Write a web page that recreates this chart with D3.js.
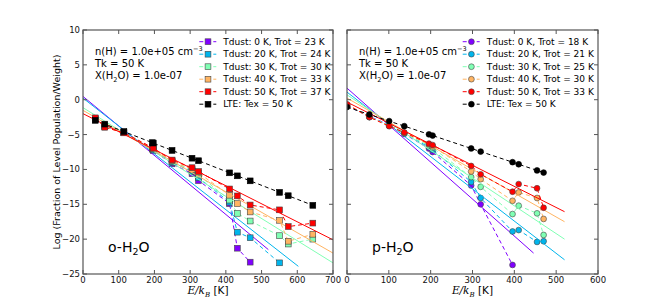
<!DOCTYPE html>
<html>
<head>
<meta charset="utf-8">
<script src="https://cdn.jsdelivr.net/npm/d3@7"></script>
<style>
  body { margin: 0; background: #fff; }
  text { font-family: "DejaVu Sans", sans-serif; }
</style>
</head>
<body>
<div id="chart"></div>
<script>
// level energies E/k [K]
var eOrtho = [34.2, 61.0, 114.4, 194.1, 196.8, 249.4, 305.3, 323.5, 410.4, 432.2, 468.1, 550.4, 574.7, 643.5];
var ePara = [0, 53.4, 100.8, 136.9, 195.9, 204.7, 296.8, 319.5, 395.7, 410.4, 454.3, 470.0];

// o-H2O, log(population/weight) per Tdust run
var oTd0  = [-2.85, -3.75, -4.65, -7.1, -7.3, -9.2, -10.6, -11.6, -14.9, -21.3, -23.3, null, null, null];
var oTd20 = [-2.8, -3.8, -4.7, -7.0, -7.2, -9.0, -10.3, -11.2, -14.7, -19.0, -19.8, -23.4, null, null];
var oTd30 = [-2.75, -3.85, -4.75, -6.95, -7.1, -8.85, -10.1, -10.8, -14.4, -16.3, -17.4, -19.5, -20.7, -20.0];
var oTd40 = [-2.7, -3.9, -4.75, -6.9, -7.0, -8.75, -10.0, -10.5, -13.7, -14.9, -16.1, -17.3, -20.3, -19.3];
var oTd50 = [-2.6, -3.95, -4.75, -6.85, -6.95, -8.65, -9.75, -10.3, -12.8, -13.8, -15.1, -15.8, -18.2, -17.7];
var oLte  = [-2.96, -3.5, -4.57, -6.16, -6.22, -7.27, -8.39, -8.75, -10.49, -10.92, -11.64, -13.29, -13.77, -15.15];

// p-H2O
var pTd0  = [-0.85, -2.4, -3.6, -4.9, -7.0, -7.5, -12.3, -15.0, -23.7, null, null, null];
var pTd20 = [-0.8, -2.45, -3.65, -4.85, -6.8, -7.2, -11.8, -14.1, -18.9, -18.7, -20.4, -20.3];
var pTd30 = [-0.75, -2.45, -3.7, -4.8, -6.6, -6.9, -11.1, -12.5, -16.4, -15.2, -16.3, -19.4];
var pTd40 = [-0.7, -2.5, -3.75, -4.75, -6.4, -6.7, -10.3, -11.4, -14.5, -13.3, -14.1, -17.1];
var pTd50 = [-0.67, -2.5, -3.8, -4.7, -6.3, -6.5, -9.5, -10.7, -13.2, -12.1, -12.7, -15.5];
var pLte  = [-1.05, -2.12, -3.07, -3.79, -4.97, -5.14, -6.99, -7.44, -8.96, -9.26, -10.14, -10.45];

// rotational-diagram fits: [E, value] at both ends
var oFits = [[[0, 0.47], [519, -21.5]], [[0, 0.23], [603, -23.9]], [[0, -1.14], [700, -23.4]], [[0, -1.53], [700, -22.0]], [[0, -2.0], [700, -20.1]]];
var pFits = [[[0, 1.66], [446, -22.0]], [[0, 1.09], [520, -22.96]], [[0, 0.7], [520, -20.0]], [[0, 0.23], [520, -17.5]], [[0, -0.34], [520, -16.06]]];

var tdust = [0, 20, 30, 40, 50];
var oTrot = [23, 24, 30, 33, 37];
var pTrot = [18, 21, 25, 30, 33];
var yTicks = [-25, -20, -15, -10, -5, 0, 5, 10];
var oXTicks = [0, 100, 200, 300, 400, 500, 600, 700];
var pXTicks = [0, 100, 200, 300, 400, 500, 600];

var colors = ["#8000ff", "#00b5ec", "#80ffb4", "#ffb462", "#ff0000"];

var svgWidth = 664;
var svgHeight = 305;

var svg = d3.select("#chart")
  .append("svg")
  .attr("width", svgWidth)
  .attr("height", svgHeight);

var plotTop = 30, plotBottom = 274;

var yScale = d3.scaleLinear()
  .domain([-25, 10])
  .range([plotBottom, plotTop]);

function drawPanel(p) {
  var x = d3.scaleLinear().domain([0, p.xMax]).range([p.left, p.right]);
  var g = svg.append("g");

  g.append("clipPath").attr("id", p.id + "clip")
    .append("rect")
    .attr("x", p.left).attr("y", plotTop)
    .attr("width", p.right - p.left).attr("height", plotBottom - plotTop);

  var plot = g.append("g").attr("clip-path", "url(#" + p.id + "clip)");

  function points(vals) {
    return p.energies.map(function(e, i) { return [e, vals[i]]; })
      .filter(function(d) { return d[1] !== null; });
  }

  var line = d3.line().x(d => x(d[0])).y(d => yScale(d[1]));

  function drawMarkers(sel, xy, color, edge) {
    if (p.marker === "square") {
      sel.selectAll(null).data(xy).enter().append("rect")
        .attr("x", d => d[0] - 2.9).attr("y", d => d[1] - 2.9)
        .attr("width", 5.8).attr("height", 5.8)
        .attr("fill", color).attr("stroke", edge).attr("stroke-width", 0.6);
    } else {
      sel.selectAll(null).data(xy).enter().append("circle")
        .attr("cx", d => d[0]).attr("cy", d => d[1]).attr("r", 2.9)
        .attr("fill", color).attr("stroke", edge).attr("stroke-width", 0.6);
    }
  }

  function marks(vals, color, edge) {
    var pts = points(vals);
    plot.append("path")
      .attr("d", line(pts))
      .attr("fill", "none")
      .attr("stroke", color)
      .attr("stroke-width", 1)
      .attr("stroke-dasharray", "4,3");
    drawMarkers(plot, pts.map(d => [x(d[0]), yScale(d[1])]), color, edge);
  }

  p.series.forEach(function(vals, i) {
    marks(vals, colors[i], "#444");
    plot.append("path")
      .attr("d", line(p.fits[i]))
      .attr("fill", "none")
      .attr("stroke", colors[i])
      .attr("stroke-width", 1);
  });
  marks(p.lte, "#000", "#000");

  // frame
  g.append("rect")
    .attr("x", p.left).attr("y", plotTop)
    .attr("width", p.right - p.left).attr("height", plotBottom - plotTop)
    .attr("fill", "none").attr("stroke", "#555").attr("stroke-width", 1.2);

  // inward ticks on all sides
  p.xTicks.forEach(function(t) {
    g.append("line").attr("x1", x(t)).attr("x2", x(t)).attr("y1", plotBottom).attr("y2", plotBottom - 4)
      .attr("stroke", "#555");
    g.append("line").attr("x1", x(t)).attr("x2", x(t)).attr("y1", plotTop).attr("y2", plotTop + 4)
      .attr("stroke", "#555");
    g.append("text").attr("x", x(t)).attr("y", plotBottom + 9)
      .attr("text-anchor", "middle").attr("font-size", "8.5px").attr("fill", "#111")
      .text(t);
  });
  yTicks.forEach(function(t) {
    g.append("line").attr("x1", p.left).attr("x2", p.left + 4).attr("y1", yScale(t)).attr("y2", yScale(t))
      .attr("stroke", "#555");
    g.append("line").attr("x1", p.right).attr("x2", p.right - 4).attr("y1", yScale(t)).attr("y2", yScale(t))
      .attr("stroke", "#555");
    if (p.yLabels) {
      g.append("text").attr("x", p.left - 3).attr("y", yScale(t)).attr("dy", "0.35em")
        .attr("text-anchor", "end").attr("font-size", "8.5px").attr("fill", "#111")
        .text(t < 0 ? "\u2212" + (-t) : t);
    }
  });

  // conditions
  var info = g.append("text").attr("font-size", "10px").attr("fill", "#000");
  var l1 = info.append("tspan").attr("x", p.left + 12).attr("y", 55);
  l1.append("tspan").text("n(H) = 1.0e+05 cm");
  l1.append("tspan").attr("dy", -4).attr("font-size", "6.5px").text("\u22123");
  info.append("tspan").attr("x", p.left + 12).attr("y", 67).attr("dy", 0).text("Tk = 50 K");
  var l3 = info.append("tspan").attr("x", p.left + 12).attr("y", 79);
  l3.append("tspan").text("X(H");
  l3.append("tspan").attr("dy", 2.5).attr("font-size", "6.5px").text("2");
  l3.append("tspan").attr("dy", -2.5).text("O) = 1.0e-07");

  // species label
  var sp = g.append("text").attr("x", p.left + 25).attr("y", 252).attr("font-size", "14px");
  sp.append("tspan").text(p.name + "-H");
  sp.append("tspan").attr("dy", 3).attr("font-size", "9.5px").text("2");
  sp.append("tspan").attr("dy", -3).text("O");

  // legend
  var labels = tdust.map((t, i) => "Tdust: " + t + " K, Trot = " + p.trot[i] + " K");
  labels.push("LTE: Tex = 50 K");
  labels.forEach(function(lab, i) {
    var ly = 41.7 + i * 12.5;
    var c = i < 5 ? colors[i] : "#000";
    g.append("line")
      .attr("x1", p.legX).attr("x2", p.legX + 17).attr("y1", ly).attr("y2", ly)
      .attr("stroke", c).attr("stroke-dasharray", "4,3");
    drawMarkers(g, [[p.legX + 8.7, ly]], c, i < 5 ? "#444" : "#000");
    g.append("text").attr("x", p.legX + 24).attr("y", ly).attr("dy", "0.35em")
      .attr("font-size", "9px").attr("fill", "#000").text(lab);
  });

  // x label
  var xl = g.append("text").attr("x", (p.left + p.right) / 2).attr("y", 294)
    .attr("text-anchor", "middle").attr("font-size", "10.5px");
  xl.append("tspan").attr("font-family", "DejaVu Serif").attr("font-style", "italic").text("E/k");
  xl.append("tspan").attr("font-family", "DejaVu Serif").attr("font-style", "italic")
    .attr("dy", 2.5).attr("font-size", "7px").text("B");
  xl.append("tspan").attr("dy", -2.5).text("  [K]");
}

drawPanel({
  id: "ortho", left: 83, right: 333, xMax: 700, xTicks: oXTicks,
  energies: eOrtho, series: [oTd0, oTd20, oTd30, oTd40, oTd50], lte: oLte,
  fits: oFits, trot: oTrot, marker: "square", name: "o", legX: 199.3, yLabels: true
});

drawPanel({
  id: "para", left: 347, right: 598, xMax: 600, xTicks: pXTicks,
  energies: ePara, series: [pTd0, pTd20, pTd30, pTd40, pTd50], lte: pLte,
  fits: pFits, trot: pTrot, marker: "circle", name: "p", legX: 462.7, yLabels: false
});

// y axis label
svg.append("text")
  .attr("transform", "translate(60," + ((plotTop + plotBottom) / 2) + ") rotate(-90)")
  .attr("text-anchor", "middle")
  .attr("font-size", "9.5px")
  .text("Log (Fraction of Level Population/Weight)");
</script>
</body>
</html>
